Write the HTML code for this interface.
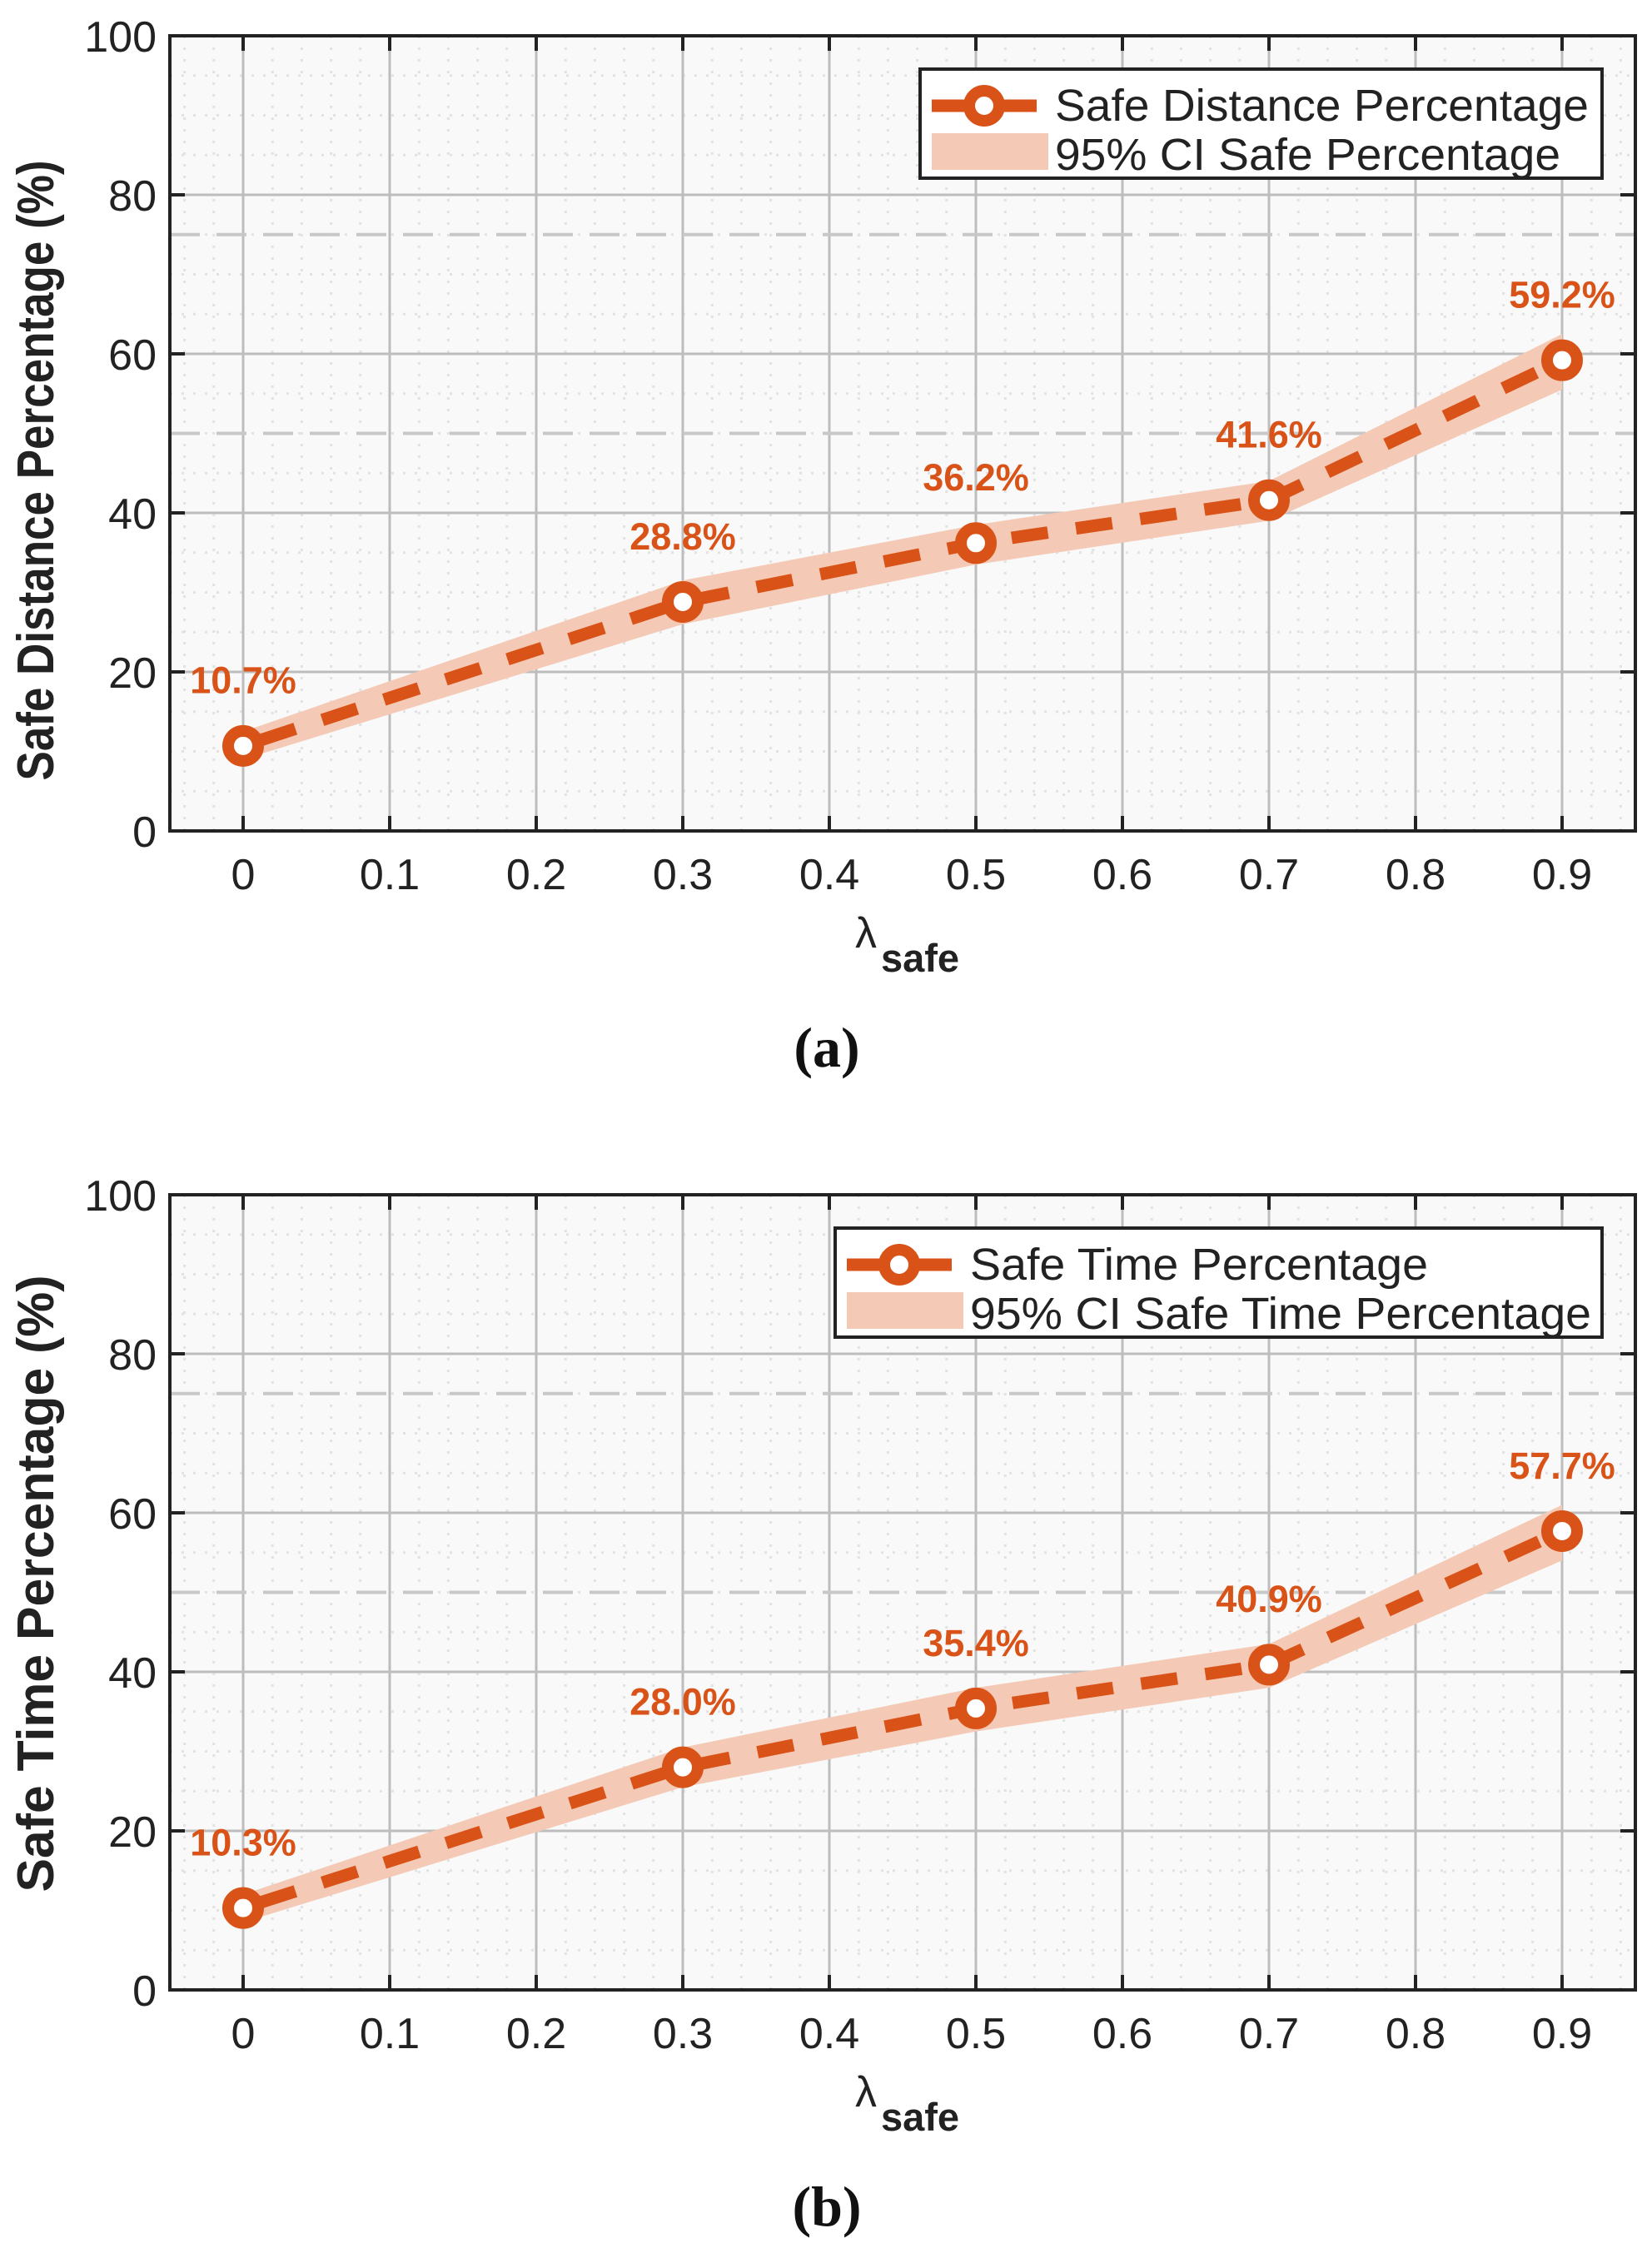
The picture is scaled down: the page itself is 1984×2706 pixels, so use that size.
<!DOCTYPE html>
<html><head><meta charset="utf-8">
<style>
html,body{margin:0;padding:0;background:#fff;}
svg{display:block;}
text{font-family:"Liberation Sans",sans-serif;}
</style></head>
<body>
<svg id="fig" width="1984" height="2706" viewBox="0 0 1984 2706" xmlns="http://www.w3.org/2000/svg"></svg>
<script>
// Panel (a) data
const xValues = [0, 0.3, 0.5, 0.7, 0.9];
const seriesA = [10.7, 28.8, 36.2, 41.6, 59.2];
const ciLowA = [9.0, 26.0, 33.5, 39.0, 55.5];
const ciHighA = [12.5, 31.5, 38.5, 44.0, 62.5];
const labelsA = ["10.7%", "28.8%", "36.2%", "41.6%", "59.2%"];
// Panel (b) data
const seriesB = [10.3, 28.0, 35.4, 40.9, 57.7];
const ciLowB = [8.5, 25.5, 32.5, 38.0, 54.0];
const ciHighB = [12.0, 30.5, 38.0, 43.5, 61.0];
const labelsB = ["10.3%", "28.0%", "35.4%", "40.9%", "57.7%"];
// Axis ticks
const xTicks = [0, 0.1, 0.2, 0.3, 0.4, 0.5, 0.6, 0.7, 0.8, 0.9];
const xTickLabels = ["0", "0.1", "0.2", "0.3", "0.4", "0.5", "0.6", "0.7", "0.8", "0.9"];
const yTicks = [0, 20, 40, 60, 80, 100];
const yTickLabels = ["0", "20", "40", "60", "80", "100"];
const refLines = [50, 75];

const NS = "http://www.w3.org/2000/svg";
const svg = document.getElementById("fig");
const ORANGE = "#D95319";

function el(tag, attrs, parent) {
  const e = document.createElementNS(NS, tag);
  for (const k in attrs) e.setAttribute(k, attrs[k]);
  (parent || svg).appendChild(e);
  return e;
}

function panel(cfg) {
  const L = 204, R = 1964, T = cfg.top, B = cfg.top + 955;
  const xMin = -0.05, xMax = 0.95;
  const sx = v => L + (v - xMin) / (xMax - xMin) * (R - L);
  const sy = v => B - v / 100 * (B - T);
  const g = el("g", {});
  
  

  const bg = el("rect", {x: L, y: T, width: R - L, height: B - T, fill: "#f9f9f9"}, g);
  
  

  for (let i = -2; i <= 47; i++) {
    const v = i * 0.02;
    if (i % 5 === 0) continue;
    const l = el("line", {x1: sx(v), x2: sx(v), y1: T, y2: B, stroke: "#e2e2e2", "stroke-width": 3, "stroke-dasharray": "3 11"}, g);
    
    
  }
  for (let v = 5; v < 100; v += 5) {
    if (v % 20 === 0) continue;
    const l = el("line", {x1: L, x2: R, y1: sy(v), y2: sy(v), stroke: "#e2e2e2", "stroke-width": 3, "stroke-dasharray": "3 11"}, g);
    
    
  }
  xTicks.forEach(v => {
    const l = el("line", {x1: sx(v), x2: sx(v), y1: T, y2: B, stroke: "#bdbdbd", "stroke-width": 3}, g);
    
    
  });
  yTicks.forEach(v => {
    const l = el("line", {x1: L, x2: R, y1: sy(v), y2: sy(v), stroke: "#bdbdbd", "stroke-width": 3}, g);
    
    
  });
  refLines.forEach(v => {
    const l = el("line", {x1: L, x2: R, y1: sy(v), y2: sy(v), stroke: "#c8c8c8", "stroke-width": 4, "stroke-dasharray": "36 20"}, g);
    
    
  });

  let pts = cfg.hi.map((v, i) => sx(xValues[i]) + "," + sy(v));
  pts = pts.concat(cfg.lo.map((v, i) => sx(xValues[i]) + "," + sy(v)).reverse());
  const band = el("polygon", {points: pts.join(" "), fill: "#F4CAB6"}, g);
  
  

  const lp = cfg.s.map((v, i) => sx(xValues[i]) + "," + sy(v)).join(" ");
  const line = el("polyline", {points: lp, fill: "none", stroke: ORANGE, "stroke-width": 15, "stroke-dasharray": "44 34", "stroke-dashoffset": "-22"}, g);
  
  

  cfg.s.forEach((v, i) => {
    const c = el("circle", {cx: sx(xValues[i]), cy: sy(v), r: 18, fill: "#fff", stroke: ORANGE, "stroke-width": 14}, g);
    
    
    const t = el("text", {x: sx(xValues[i]), y: sy(v + 8.5) + 18, "text-anchor": "middle", "font-size": 45, "font-weight": "bold", fill: ORANGE}, g);
    t.textContent = cfg.labels[i];
    
    
  });

  const box = el("rect", {x: L, y: T, width: R - L, height: B - T, fill: "none", stroke: "#222", "stroke-width": 4}, g);
  
  
  xTicks.forEach((v, i) => {
    el("line", {x1: sx(v), x2: sx(v), y1: B, y2: B - 18, stroke: "#222", "stroke-width": 4}, g);
    el("line", {x1: sx(v), x2: sx(v), y1: T, y2: T + 18, stroke: "#222", "stroke-width": 4}, g);
    const t = el("text", {x: sx(v), y: B + 70, "text-anchor": "middle", "font-size": 52, fill: "#222"}, g);
    t.textContent = xTickLabels[i];
    
    
  });
  yTicks.forEach((v, i) => {
    el("line", {x1: L, x2: L + 18, y1: sy(v), y2: sy(v), stroke: "#222", "stroke-width": 4}, g);
    el("line", {x1: R, x2: R - 18, y1: sy(v), y2: sy(v), stroke: "#222", "stroke-width": 4}, g);
    const t = el("text", {x: L - 16, y: sy(v) + 19, "text-anchor": "end", "font-size": 52, fill: "#222"}, g);
    t.textContent = yTickLabels[i];
    
    
  });

  const yc = T + cfg.ycOff;
  const yt = el("text", {x: 0, y: 0, transform: "translate(64," + yc + ") rotate(-90)", "text-anchor": "middle", "font-size": 62, "font-weight": "bold", fill: "#222", textLength: cfg.ylen, lengthAdjust: "spacingAndGlyphs"}, g);
  yt.textContent = cfg.ytitle;
  
  

  const xt = el("text", {x: 1027, y: B + 140, "font-size": 52, fill: "#222"}, g);
  xt.textContent = "λ";
  
  
  const xs = el("text", {x: 1058, y: B + 169, "font-size": 47, "font-weight": "bold", fill: "#222"}, g);
  xs.textContent = "safe";
  
  

  const cap = el("text", {x: 993, y: B + 283, "text-anchor": "middle", "font-size": 68, "font-weight": "bold", fill: "#111", style: "font-family:'Liberation Serif',serif"}, g);
  cap.textContent = cfg.caption;
  
  

  const lg = el("g", {}, g);
  
  
  const lx = cfg.legX, ly = T + 40, lw = 1924 - cfg.legX, lh = 131;
  el("rect", {x: lx, y: ly, width: lw, height: lh, fill: "#fff", stroke: "#222", "stroke-width": 4}, lg);
  el("line", {x1: lx + 14, x2: lx + 140, y1: ly + 44, y2: ly + 44, stroke: ORANGE, "stroke-width": 15}, lg);
  el("circle", {cx: lx + 77, cy: ly + 44, r: 18, fill: "#fff", stroke: ORANGE, "stroke-width": 14}, lg);
  const e1 = el("text", {x: lx + 162, y: ly + 62, "font-size": 54, fill: "#222", textLength: cfg.leg1w, lengthAdjust: "spacingAndGlyphs"}, lg);
  e1.textContent = cfg.leg1;
  
  
  el("rect", {x: lx + 14, y: ly + 77, width: 140, height: 44, fill: "#F4CAB6"}, lg);
  const e2 = el("text", {x: lx + 162, y: ly + 121, "font-size": 54, fill: "#222", textLength: cfg.leg2w, lengthAdjust: "spacingAndGlyphs"}, lg);
  e2.textContent = cfg.leg2;
  
  
}

panel({name: "panel-a", top: 43, s: seriesA, lo: ciLowA, hi: ciHighA, labels: labelsA,
  ytitle: "Safe Distance Percentage (%)", ylen: 745, ycOff: 522, caption: "(a)", legX: 1105,
  leg1: "Safe Distance Percentage", leg2: "95% CI Safe Percentage", leg1w: 641, leg2w: 607});
panel({name: "panel-b", top: 1435, s: seriesB, lo: ciLowB, hi: ciHighB, labels: labelsB,
  ytitle: "Safe Time Percentage (%)", ylen: 741, ycOff: 467, caption: "(b)", legX: 1003,
  leg1: "Safe Time Percentage", leg2: "95% CI Safe Time Percentage", leg1w: 550, leg2w: 746});
</script>
</body></html>
